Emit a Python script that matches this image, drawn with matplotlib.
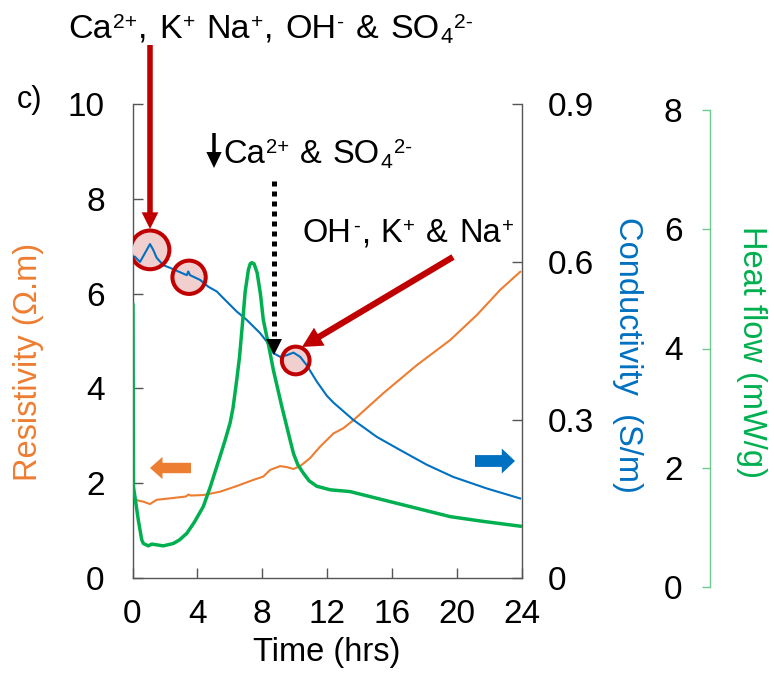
import matplotlib
matplotlib.use("Agg")
import matplotlib.pyplot as plt
from matplotlib.lines import Line2D
from matplotlib.patches import Polygon

plt.rcParams['font.family'] = ['Liberation Sans', 'DejaVu Sans']

# ---- data -------------------------------------------------------------
time_res = [0.15, 0.67, 1.08, 1.49, 2.31, 3.3, 3.45, 3.6, 4.37, 5.4, 6.43, 7.46,
            8.07, 8.49, 9.1, 9.52, 9.93, 10.34, 10.96, 11.57, 12.4, 13.01, 13.63,
            15.48, 17.54, 19.6, 21.25, 22.69, 23.92]
resistivity = [1.65, 1.61, 1.56, 1.65, 1.68, 1.72, 1.76, 1.74, 1.75, 1.82, 1.94, 2.07,
               2.14, 2.28, 2.36, 2.34, 2.30, 2.36, 2.53, 2.77, 3.05, 3.16, 3.33,
               3.90, 4.49, 5.02, 5.55, 6.08, 6.46]

time_cond = [0.15, 0.46, 0.77, 1.08, 1.28, 1.49, 1.9, 2.31, 2.83, 3.35, 3.44, 3.55,
             4.17, 4.68, 5.2, 5.81, 6.43, 7.05, 7.87, 8.28, 8.69, 9.1, 9.52, 9.93,
             10.34, 10.75, 11.37, 11.99, 12.4, 12.81, 13.63, 15.07, 16.51, 18.16,
             19.78, 21.86, 23.92]
conductivity = [0.610, 0.600, 0.617, 0.634, 0.623, 0.608, 0.594, 0.589, 0.582, 0.575,
                0.582, 0.575, 0.566, 0.553, 0.544, 0.525, 0.506, 0.490, 0.465, 0.449,
                0.427, 0.420, 0.423, 0.428, 0.420, 0.404, 0.373, 0.346, 0.333, 0.322,
                0.300, 0.268, 0.243, 0.215, 0.192, 0.170, 0.151]

time_hf = [0.03, 0.06, 0.36, 0.57, 0.67, 0.98, 1.19, 1.9, 2.52, 2.9, 3.35, 3.8, 4.37,
           4.8, 5.4, 5.7, 6.02, 6.2, 6.43, 6.6, 6.84, 6.95, 7.15, 7.26, 7.36, 7.5,
           7.69, 7.9, 8.07, 8.4, 8.69, 9.21, 9.6, 9.93, 10.2, 10.54, 10.9, 11.37,
           12.2, 13.43, 15.48, 17.54, 19.6, 21.65, 23.92]
heat_flow = [4.73, 1.68, 1.12, 0.79, 0.73, 0.69, 0.72, 0.69, 0.73, 0.79, 0.90, 1.08,
             1.35, 1.68, 2.19, 2.45, 2.75, 3.0, 3.47, 3.85, 4.59, 4.95, 5.32, 5.42,
             5.44, 5.42, 5.27, 4.9, 4.48, 4.05, 3.64, 3.03, 2.6, 2.24, 2.05, 1.91,
             1.78, 1.69, 1.63, 1.60, 1.46, 1.32, 1.18, 1.10, 1.02]

# highlighted points on the conductivity curve
mark_time = [1.08, 3.49, 10.07]
mark_cond = [0.623, 0.571, 0.413]
mark_size = [777, 575, 398]

x_ticks = [0, 4, 8, 12, 16, 20, 24]
res_ticks = [0, 2, 4, 6, 8, 10]
cond_ticks = [0, 0.3, 0.6, 0.9]
cond_labels = ['0', '0.3', '0.6', '0.9']
hf_ticks = [0, 2, 4, 6, 8]

# ---- style ------------------------------------------------------------
ORANGE = '#ED7D31'
BLUE = '#0070C0'
GREEN = '#00B050'
GREEN_AX = '#6CCB8F'
DARKRED = '#C00000'
SPINE = '#555555'
FS = 24
TXT = 23.5

W, H = 774, 673
fig = plt.figure(figsize=(W / 100, H / 100), dpi=100)
renderer = fig.canvas.get_renderer()


def fx(x):
    return x / W


def fy(y):
    return 1 - y / H


ax = fig.add_axes([fx(132.5), fy(578), fx(521.5) - fx(132.5), fy(104) - fy(578)])
ax2 = ax.twinx()
ax3 = fig.add_axes([fx(132.5), fy(587), fx(521.5) - fx(132.5), fy(110) - fy(587)],
                   sharex=ax)
ax3.patch.set_visible(False)

# resistivity
ax.plot(time_res, resistivity, color=ORANGE, lw=1.5, zorder=2)
ax.set_xlim(0, 24)
ax.set_ylim(0, 10)
ax.set_xticks(x_ticks)
ax.set_yticks(res_ticks)
ax.spines['top'].set_visible(False)
ax.spines['right'].set_visible(False)
for s in ('left', 'bottom'):
    ax.spines[s].set_color(SPINE)
    ax.spines[s].set_linewidth(1.0)
ax.tick_params(axis='both', direction='in', length=7, width=1.0, color=SPINE,
               labelsize=FS)
ax.tick_params(axis='y', pad=20)
ax.tick_params(axis='x', pad=15)

# conductivity
ax2.scatter(mark_time, mark_cond, s=mark_size, color='#F2CFCF', edgecolors='none',
            zorder=1)
ax2.plot(time_cond, conductivity, color=BLUE, lw=1.5, zorder=2)
ax2.scatter(mark_time, mark_cond, s=mark_size, facecolors='none',
            edgecolors=DARKRED, linewidths=2.9, zorder=3)
ax2.set_ylim(0, 0.9)
ax2.set_yticks(cond_ticks)
ax2.set_yticklabels(cond_labels)
for s in ('top', 'left', 'bottom'):
    ax2.spines[s].set_visible(False)
ax2.spines['right'].set_color(SPINE)
ax2.spines['right'].set_linewidth(1.0)
ax2.tick_params(axis='y', direction='in', length=7, width=1.0, color=SPINE,
                labelsize=FS, pad=19)

# heat flow
ax3.plot(time_hf, heat_flow, color=GREEN, lw=2.5, zorder=2)
ax3.set_ylim(0, 8)
ax3.set_yticks(hf_ticks)
for s in ('top', 'right', 'bottom'):
    ax3.spines[s].set_visible(False)
ax3.spines['left'].set_position(('axes', (710 - 132.5) / 389.0))
ax3.spines['left'].set_color(GREEN_AX)
ax3.spines['left'].set_linewidth(1.0)
ax3.tick_params(axis='y', direction='out', length=5.8, width=1.0, color=GREEN_AX,
                labelsize=FS, pad=14)
ax3.tick_params(axis='x', which='both', bottom=False, labelbottom=False)

# axis titles
fig.text(fx(29), fy(362), 'Resistivity (Ω.m)', rotation=90, color=ORANGE,
         fontsize=TXT, ha='center', va='center')
fig.text(fx(628), fy(355), 'Conductivity  (S/m)', rotation=270, color=BLUE,
         fontsize=TXT, ha='center', va='center')
fig.text(fx(752), fy(352), 'Heat flow (mW/g)', rotation=270, color=GREEN,
         fontsize=TXT, ha='center', va='center')
fig.text(0.5 * (fx(132.5) + fx(521.5)), fy(661), 'Time (hrs)', fontsize=TXT,
         ha='center', va='baseline')
fig.text(fx(17), fy(108), 'c)', fontsize=22, va='baseline')


# ion labels with raised / lowered charges and indices
def ion_text(x, y, parts, fs=TXT):
    px_per_pt = 100 / 72
    cur = x
    for s, kind in parts:
        if kind == 'sp':
            cur += 0.30 * fs * px_per_pt
            continue
        size, dy = fs, 0.0
        if kind == 'sup':
            size, dy = fs * 0.62, 0.30 * fs * px_per_pt
        elif kind == 'sub':
            size, dy = fs * 0.65, -0.15 * fs * px_per_pt
        t = fig.text(fx(cur), fy(y - dy), s, fontsize=size, ha='left', va='baseline')
        cur += t.get_window_extent(renderer).width + 0.035 * fs * px_per_pt


SP = ('', 'sp')
ion_text(68, 38, [('Ca', 'n'), ('2+', 'sup'), (',', 'n'), SP, ('K', 'n'), ('+', 'sup'),
                  SP, ('Na', 'n'), ('+', 'sup'), (',', 'n'), SP, ('OH', 'n'),
                  ('-', 'sup'), SP, ('&', 'n'), SP, ('SO', 'n'), ('4', 'sub'),
                  ('2-', 'sup')], fs=24.5)
ion_text(223, 163, [('Ca', 'n'), ('2+', 'sup'), SP, ('&', 'n'), SP, ('SO', 'n'),
                    ('4', 'sub'), ('2-', 'sup')])
ion_text(303, 242, [('OH', 'n'), ('-', 'sup'), (',', 'n'), SP, ('K', 'n'), ('+', 'sup'),
                    SP, ('&', 'n'), SP, ('Na', 'n'), ('+', 'sup')])


def arrow(tail, tip, style, color):
    ax3.annotate('', xy=(tip[0], H - tip[1]), xytext=(tail[0], H - tail[1]),
                 xycoords='figure pixels', textcoords='figure pixels',
                 annotation_clip=False,
                 arrowprops=dict(arrowstyle=style, mutation_scale=10, color=color,
                                 shrinkA=0, shrinkB=0, lw=0))


arrow((150, 45), (150, 229), 'simple,head_length=1.2,head_width=1.2,tail_width=0.4',
      DARKRED)
arrow((453, 257), (302, 347), 'simple,head_length=1.45,head_width=1.5,tail_width=0.45',
      DARKRED)
arrow((214, 133), (214, 168), 'simple,head_length=1.15,head_width=1.1,tail_width=0.25',
      'black')
arrow((191, 468), (150, 468), 'simple,head_length=0.9,head_width=1.6,tail_width=0.75',
      ORANGE)
arrow((475, 461), (515, 461), 'simple,head_length=0.95,head_width=1.8,tail_width=0.85',
      BLUE)

# dotted pointer towards the conductivity plateau
fig.add_artist(Line2D([fx(274), fx(274)], [fy(181), fy(340)], transform=fig.transFigure,
                      color='black', lw=3.6, linestyle=(0, (1, 1)),
                      dash_capstyle='butt'))
fig.add_artist(Polygon([(fx(266), fy(339)), (fx(282), fy(339)), (fx(274), fy(355))],
                       closed=True, transform=fig.transFigure, color='black', lw=0))

fig.savefig('out.png', dpi=100)
